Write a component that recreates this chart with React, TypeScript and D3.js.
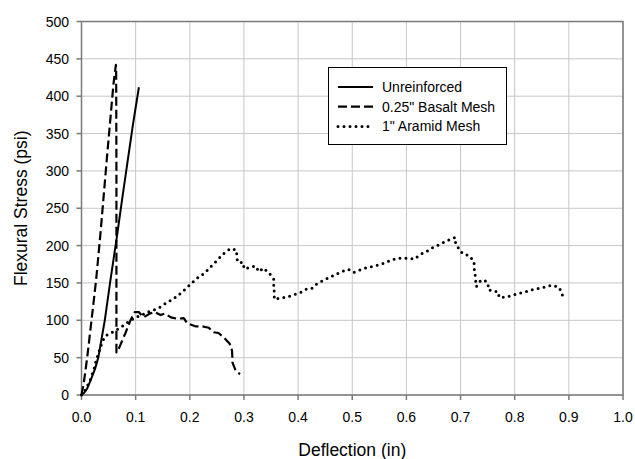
import React from "react";
import * as d3 from "d3";

// deflection (in) / flexural stress (psi)
const unreinforcedX = [0, 0.005, 0.01, 0.017, 0.025, 0.031, 0.043, 0.0535, 0.065, 0.075, 0.085, 0.095, 0.106];
const unreinforcedY = [0, 3, 8, 20, 35, 50, 100, 154, 210, 262, 312, 362, 412];

const basaltX = [0, 0.004, 0.0105, 0.0185, 0.027, 0.035, 0.047, 0.059, 0.0635, 0.064, 0.0645, 0.0645, 0.0689, 0.0812, 0.0904, 0.0984, 0.1058, 0.115, 0.126, 0.135, 0.146, 0.154, 0.165, 0.177, 0.189, 0.195, 0.21, 0.223, 0.235, 0.244, 0.253, 0.263, 0.272, 0.276, 0.278, 0.279, 0.284, 0.288, 0.293];
const basaltY = [0, 15, 50, 100, 154, 216, 318, 416, 442, 438, 300, 57, 62, 83, 100, 111, 111, 104, 109, 111, 107, 109, 104, 102, 103, 96, 92, 92, 90, 84, 83, 77, 70, 66, 59, 43, 34, 30, 28];

const aramidX = [0, 0.0074, 0.0166, 0.0228, 0.0271, 0.0332, 0.0394, 0.046, 0.054, 0.062, 0.075, 0.087, 0.1, 0.112, 0.122, 0.134, 0.146, 0.156, 0.168, 0.178, 0.189, 0.201, 0.213, 0.227, 0.239, 0.25, 0.262, 0.275, 0.286, 0.287, 0.288, 0.299, 0.3, 0.313, 0.321, 0.328, 0.336, 0.347, 0.355, 0.355, 0.356, 0.356, 0.367, 0.379, 0.391, 0.404, 0.416, 0.426, 0.435, 0.448, 0.46, 0.474, 0.487, 0.493, 0.503, 0.513, 0.525, 0.537, 0.548, 0.557, 0.57, 0.582, 0.594, 0.604, 0.615, 0.625, 0.637, 0.65, 0.657, 0.668, 0.677, 0.69, 0.691, 0.695, 0.704, 0.715, 0.725, 0.725, 0.727, 0.728, 0.729, 0.737, 0.744, 0.751, 0.751, 0.759, 0.77, 0.771, 0.782, 0.794, 0.808, 0.82, 0.833, 0.846, 0.858, 0.87, 0.882, 0.888, 0.888];
const aramidY = [0, 7, 21, 34, 46, 60, 73, 80, 83, 86, 92, 98, 104, 107, 111, 114, 118, 123, 128, 133, 140, 148, 156, 163, 172, 180, 189, 196, 194, 185, 178, 177, 169, 171, 173, 165, 170, 163, 155, 146, 137, 128, 130, 131, 134, 137, 142, 143, 149, 154, 158, 163, 167, 168, 164, 167, 170, 172, 174, 176, 180, 183, 183, 183, 182, 188, 192, 198, 200, 204, 207, 211, 202, 198, 189, 187, 179, 170, 161, 152, 145, 153, 154, 149, 141, 139, 138, 131, 131, 133, 136, 138, 141, 143, 145, 147, 144, 135, 126];

const xTicks = [0, 0.1, 0.2, 0.3, 0.4, 0.5, 0.6, 0.7, 0.8, 0.9, 1.0];
const yTicks = [0, 50, 100, 150, 200, 250, 300, 350, 400, 450, 500];

const seriesNames = ["Unreinforced", "0.25\" Basalt Mesh", "1\" Aramid Mesh"];

const W = 635;
const H = 459;
const left = 81.5, right = 623, top = 21.5, bottom = 395;
const font = "'Liberation Sans', Arial, sans-serif";

const zip = (xs: number[], ys: number[]) => xs.map((x, i) => [x, ys[i]] as [number, number]);

export default function App() {
  const x = d3.scaleLinear().domain([0, 1]).range([left, right]);
  const y = d3.scaleLinear().domain([0, 500]).range([bottom, top]);
  const line = d3.line<[number, number]>().x((d) => x(d[0])).y((d) => y(d[1]));

  const styles = [
    { dash: undefined, width: 2, cap: "butt" },
    { dash: "9,4", width: 2.2, cap: "butt" },
    { dash: "0,6", width: 3, cap: "round" },
  ];
  const data = [zip(unreinforcedX, unreinforcedY), zip(basaltX, basaltY), zip(aramidX, aramidY)];

  return (
    <svg width={W} height={H} style={{ position: "absolute", left: 0, top: 0, background: "#fff" }} fontFamily={font}>
      {/* grid */}
      {xTicks.map((t) => (
        <line key={"gx" + t} x1={x(t)} x2={x(t)} y1={top} y2={bottom} stroke="#c6c6c6" strokeWidth={1} />
      ))}
      {yTicks.map((t) => (
        <line key={"gy" + t} x1={left} x2={right} y1={y(t)} y2={y(t)} stroke="#c6c6c6" strokeWidth={1} />
      ))}
      <rect x={left} y={top} width={right - left} height={bottom - top} fill="none" stroke="#7a7a7a" strokeWidth={1.5} />

      {/* ticks + labels */}
      {xTicks.map((t) => (
        <g key={"tx" + t}>
          <line x1={x(t)} x2={x(t)} y1={bottom} y2={bottom + 5} stroke="#7a7a7a" strokeWidth={1.5} />
          <text x={x(t)} y={422} textAnchor="middle" fontSize={14}>
            {t.toFixed(1)}
          </text>
        </g>
      ))}
      {yTicks.map((t) => (
        <g key={"ty" + t}>
          <line x1={left - 5} x2={left} y1={y(t)} y2={y(t)} stroke="#7a7a7a" strokeWidth={1.5} />
          <text x={69} y={y(t) + 5} textAnchor="end" fontSize={14}>
            {t}
          </text>
        </g>
      ))}

      {/* series */}
      {data.map((d, i) => (
        <path
          key={"s" + i}
          d={line(d) || ""}
          fill="none"
          stroke="#000"
          strokeWidth={styles[i].width}
          strokeDasharray={styles[i].dash}
          strokeLinecap={styles[i].cap as any}
          strokeLinejoin="round"
        />
      ))}

      {/* axis titles */}
      <text x={(left + right) / 2} y={456} textAnchor="middle" fontSize={17.5}>
        Deflection (in)
      </text>
      <text transform={`translate(27,${(top + bottom) / 2}) rotate(-90)`} textAnchor="middle" fontSize={17.5}>
        Flexural Stress (psi)
      </text>

      {/* legend */}
      <rect x={328.5} y={67.5} width={178} height={77} fill="#fff" stroke="#000" strokeWidth={1} />
      {seriesNames.map((name, i) => (
        <g key={"l" + i}>
          <line
            x1={338}
            x2={373}
            y1={87 + i * 19.7}
            y2={87 + i * 19.7}
            stroke="#000"
            strokeWidth={styles[i].width}
            strokeDasharray={styles[i].dash}
            strokeLinecap={styles[i].cap as any}
          />
          <text x={382} y={87 + i * 19.7 + 5} fontSize={14}>
            {name}
          </text>
        </g>
      ))}
    </svg>
  );
}
